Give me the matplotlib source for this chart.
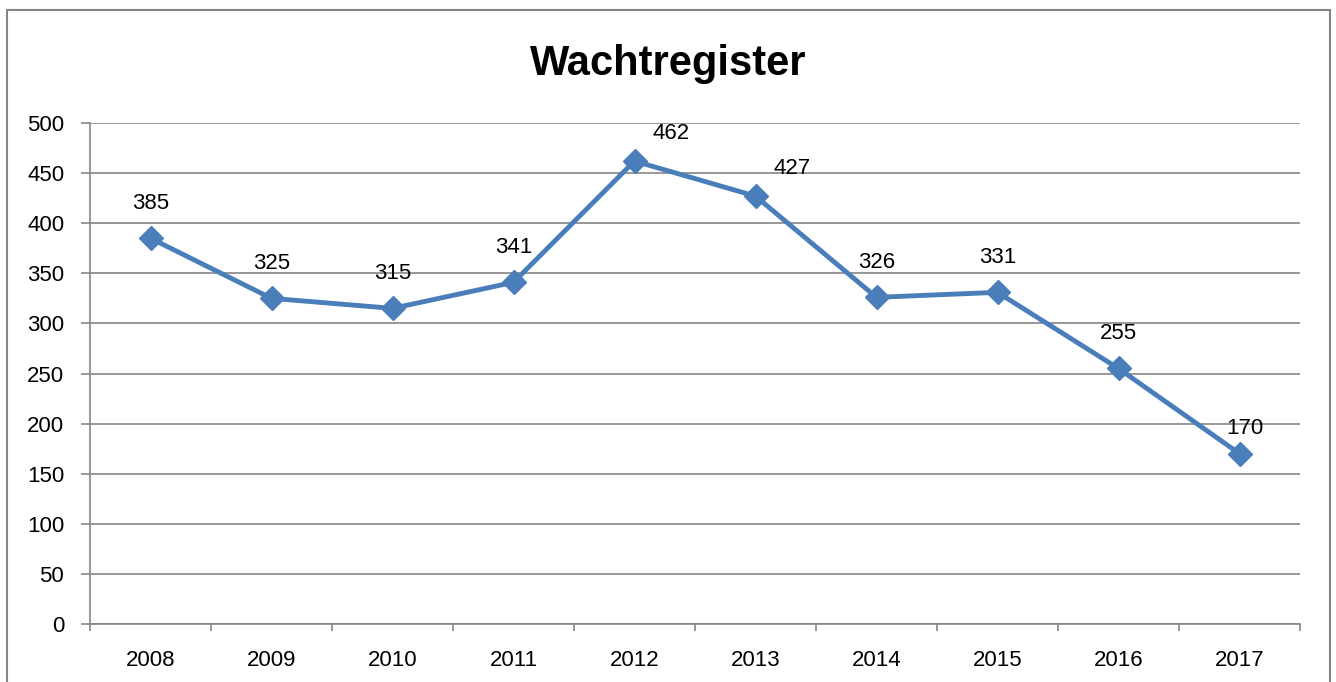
import numpy as np
import matplotlib.pyplot as plt
from matplotlib.patches import Rectangle

# Gegevens
jaren = ['2008', '2009', '2010', '2011', '2012', '2013', '2014', '2015', '2016', '2017']
aantallen = [385, 325, 315, 341, 462, 427, 326, 331, 255, 170]

grijs = '#868686'
blauw = '#4A7EBB'

plt.rcParams['font.family'] = ['Liberation Sans', 'DejaVu Sans']

fig = plt.figure(figsize=(13.36, 6.82), dpi=100)
ax = fig.add_axes([90/1336, 1 - 624/682, 1210/1336, 501/682])

x = np.arange(len(jaren))
ax.plot(x, aantallen, color=blauw, linewidth=3.5, marker='D', markersize=12,
        markeredgecolor=blauw, markerfacecolor=blauw, zorder=3)

# labels boven de punten; een paar zijn in het origineel verschoven
verschuiving = {4: (26, 20), 5: (26, 20), 9: (4, 18)}
for i, (xi, yi) in enumerate(zip(x, aantallen)):
    dx, dy = verschuiving.get(i, (0, 25))
    ax.annotate(str(yi), (xi, yi), xytext=(dx, dy), textcoords='offset points',
                ha='center', va='center', fontsize=16)

ax.set_xlim(-0.5, len(jaren) - 0.5)
ax.set_ylim(0, 500)
ax.set_yticks(np.arange(0, 501, 50))
ax.set_xticks(x)
ax.set_xticklabels(jaren)
ax.set_xticks(np.arange(-0.5, len(jaren)), minor=True)

ax.grid(axis='y', color=grijs, linewidth=1.2)
ax.set_axisbelow(True)
for kant in ['top', 'right']:
    ax.spines[kant].set_visible(False)
for kant in ['left', 'bottom']:
    ax.spines[kant].set_color(grijs)
    ax.spines[kant].set_linewidth(1.2)

ax.tick_params(axis='y', length=6.5, color=grijs, width=1.2, labelsize=16, pad=12)
ax.tick_params(axis='x', which='major', length=0, labelsize=16, pad=18.5)
ax.tick_params(axis='x', which='minor', length=5, color=grijs, width=1.2)

fig.text(0.5, 1 - 64/682, 'Wachtregister', ha='center', va='center',
         fontsize=30, fontweight='bold')

# rand om de hele grafiek
fig.patches.append(Rectangle((7/1336, -0.05), 1323/1336, 1.05 - 10/682,
                             transform=fig.transFigure, fill=False,
                             edgecolor=grijs, linewidth=1.5))

fig.savefig('out.png', dpi=100)
